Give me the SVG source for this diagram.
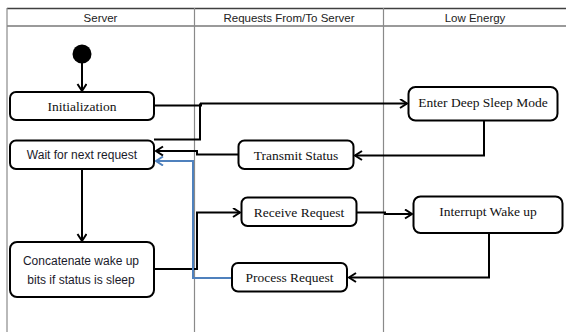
<svg xmlns="http://www.w3.org/2000/svg" width="566" height="332" viewBox="0 0 566 332">
<style>
.lane{stroke:#8a8a8a;stroke-width:1.2;fill:none}
.hdr{font-family:"Liberation Sans",Arial,sans-serif;font-size:11.5px;fill:#222;text-anchor:middle}
.box{fill:#fff;stroke:#000;stroke-width:2}
.serif{font-family:"Liberation Serif","Times New Roman",serif;font-size:13.5px;fill:#111;text-anchor:middle}
.sans{font-family:"Liberation Sans",Arial,sans-serif;font-size:12px;fill:#1a1a2a;text-anchor:middle}
.con{fill:none;stroke:#000;stroke-width:2;marker-end:url(#ah)}
.conb{fill:none;stroke:#4f81bd;stroke-width:2;marker-end:url(#ahb)}
</style>
<defs>
<marker id="ah" markerUnits="userSpaceOnUse" markerWidth="12" markerHeight="12" refX="8" refY="5" orient="auto">
<path d="M1,0.5 L8,5 L1,9.5" fill="none" stroke="#000" stroke-width="2"/>
</marker>
<marker id="ahb" markerUnits="userSpaceOnUse" markerWidth="12" markerHeight="12" refX="8" refY="5" orient="auto">
<path d="M1,0.5 L8,5 L1,9.5" fill="none" stroke="#4f81bd" stroke-width="2"/>
</marker>
</defs>
<rect width="566" height="332" fill="#fff"/>
<g id="swimlanes">
<line x1="7" y1="8.5" x2="566" y2="8.5" stroke="#404040" stroke-width="1.5"/>
<line x1="7" y1="26" x2="566" y2="26" stroke="#9a9a9a" stroke-width="1.8"/>
<line class="lane" x1="7" y1="8" x2="7" y2="332"/>
<line class="lane" x1="194.5" y1="8" x2="194.5" y2="332"/>
<line class="lane" x1="383.5" y1="8" x2="383.5" y2="332"/>
<text class="hdr" x="100.5" y="21.5">Server</text>
<text class="hdr" x="289" y="21.5">Requests From/To Server</text>
<text class="hdr" x="475" y="21.5">Low Energy</text>
</g>
<g id="connectors">
<path class="con" d="M82,63 V91"/>
<path class="con" d="M154,105.5 H201 V103.5 H407"/>
<path fill="none" stroke="#000" stroke-width="2" d="M154,139.5 H200 V103.5"/>
<path class="con" d="M484,121 V155.5 H355"/>
<path class="con" d="M238,154.5 H197 V151 H156"/>
<path class="con" d="M82,169 V241"/>
<path class="con" d="M154,269 H197 V212.5 H240"/>
<path class="con" d="M357,212.5 H385 V214 H412"/>
<path class="con" d="M489,233 V277.5 H349"/>
<path class="conb" d="M232,278 H193 V161 H156"/>
</g>
<g id="start"><circle cx="82" cy="54" r="9.5" fill="#000"/></g>
<g id="initialization">
<rect class="box" x="10" y="92" width="144" height="28" rx="6"/>
<text class="serif" x="82" y="110.5">Initialization</text>
</g>
<g id="wait">
<rect class="box" x="10" y="140.5" width="144" height="28.5" rx="6"/>
<text class="sans" x="82" y="159">Wait for next request</text>
</g>
<g id="concatenate">
<rect class="box" x="10" y="242" width="144" height="55" rx="7"/>
<text class="sans" x="81" y="264.5">Concatenate wake up</text>
<text class="sans" x="81" y="283.5">bits if status is sleep</text>
</g>
<g id="transmit">
<rect class="box" x="238.5" y="140.5" width="115" height="28.5" rx="6"/>
<text class="serif" x="296" y="159.5">Transmit Status</text>
</g>
<g id="receive">
<rect class="box" x="241.5" y="197.5" width="115" height="28.5" rx="6"/>
<text class="serif" x="299" y="216.5">Receive Request</text>
</g>
<g id="process">
<rect class="box" x="232" y="263" width="115" height="28.5" rx="6"/>
<text class="serif" x="289.5" y="281.5">Process Request</text>
</g>
<g id="deepsleep">
<rect class="box" x="408.5" y="87" width="149" height="33.5" rx="7"/>
<text class="serif" x="483" y="107">Enter Deep Sleep Mode</text>
</g>
<g id="interrupt">
<rect class="box" x="413.5" y="196.5" width="149" height="36.5" rx="7"/>
<text class="serif" x="488" y="216">Interrupt Wake up</text>
</g>
</svg>
